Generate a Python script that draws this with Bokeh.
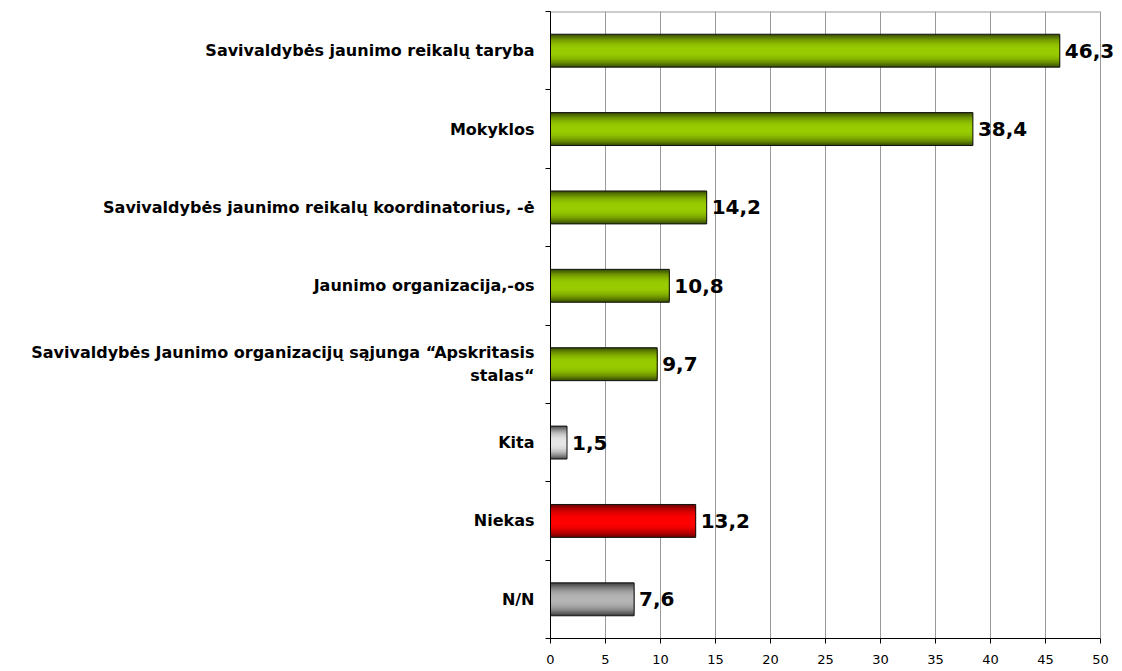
from bokeh.plotting import figure
from bokeh.models import ColumnDataSource, LabelSet, FixedTicker, Range1d
from bokeh.core.properties import value
from bokeh.embed import file_html
from bokeh.resources import INLINE

# ---- data (top to bottom) ----
categories = [
    "Savivaldybės jaunimo reikalų taryba",
    "Mokyklos",
    "Savivaldybės jaunimo reikalų koordinatorius, -ė",
    "Jaunimo organizacija,-os",
    "Savivaldybės Jaunimo organizacijų sąjunga “Apskritasis\nstalas“",
    "Kita",
    "Niekas",
    "N/N",
]
values = [46.3, 38.4, 14.2, 10.8, 9.7, 1.5, 13.2, 7.6]
value_labels = ["46,3", "38,4", "14,2", "10,8", "9,7", "1,5", "13,2", "7,6"]
x_ticks = [0, 5, 10, 15, 20, 25, 30, 35, 40, 45, 50]
x_max = 50

# ---- styles ----
bar_style = ["green", "green", "green", "green", "green", "silver", "red", "gray"]
palette = {  # (edge colour, centre colour)
    "green": ((0x3a, 0x50, 0x00), (0x99, 0xcc, 0x00)),
    "silver": ((0x50, 0x50, 0x50), (0xe6, 0xe6, 0xe6)),
    "red": ((0x70, 0x00, 0x00), (0xff, 0x00, 0x00)),
    "gray": ((0x40, 0x40, 0x40), (0xb4, 0xb4, 0xb4)),
}

n = len(categories)
ypos = [n - 0.5 - i for i in range(n)]
BAR_H = 0.42
LAYERS = 14
PX_PER_UNIT = 11.0
FRAME_W = 570


def mix(c1, c2, t):
    return "#%02x%02x%02x" % tuple(int(round(a + (b - a) * t)) for a, b in zip(c1, c2))


data = dict(y=ypos, right=values, label=value_labels)
for k in range(LAYERS):
    t = k / (LAYERS - 1)
    f = 1 - (1 - t) ** 2.2
    data["c%d" % k] = [mix(palette[s][0], palette[s][1], f) for s in bar_style]
src = ColumnDataSource(data)

p = figure(
    width=1120, height=670,
    frame_width=FRAME_W, frame_height=627,
    min_border_left=550, min_border_right=0, min_border_top=11, min_border_bottom=32,
    x_range=Range1d(0, FRAME_W / PX_PER_UNIT), y_range=Range1d(0, n),
    output_backend="svg", toolbar_location=None,
)

# top border line over the 0..x_max span
p.segment(x0=[0], x1=[x_max], y0=[n], y1=[n], line_color="#999999", line_width=2)

for k in range(LAYERS):
    h = BAR_H * (1 - k / LAYERS)
    p.hbar(y="y", left=0, right="right", height=h, source=src,
           fill_color="c%d" % k, line_color=None)
p.hbar(y="y", left=0, right="right", height=BAR_H, source=src,
       fill_alpha=0, line_color="#111111", line_width=1)

# x axis
p.xaxis.ticker = FixedTicker(ticks=x_ticks)
p.xaxis.bounds = (0, x_max)
p.xaxis.axis_line_color = "#000000"
p.xaxis.major_tick_line_color = "#000000"
p.xaxis.major_tick_out = 5
p.xaxis.major_tick_in = 0
p.xaxis.minor_tick_line_color = None
p.xaxis.major_label_text_font = "DejaVu Sans"
p.xaxis.major_label_text_font_size = "13px"
p.xaxis.major_label_text_color = "#000000"
p.xaxis.major_label_standoff = 11

# y axis: category labels at centres, boundary ticks as minor ticks
p.yaxis.ticker = FixedTicker(ticks=ypos, minor_ticks=list(range(n + 1)))
p.yaxis.major_label_overrides = {y: c for y, c in zip(ypos, categories)}
p.yaxis.axis_line_color = "#000000"
p.yaxis.major_tick_line_color = None
p.yaxis.major_tick_out = 0
p.yaxis.major_tick_in = 0
p.yaxis.minor_tick_line_color = "#000000"
p.yaxis.minor_tick_out = 5
p.yaxis.minor_tick_in = 0
p.yaxis.major_label_standoff = 11
p.yaxis.major_label_text_font = "DejaVu Sans"
p.yaxis.major_label_text_font_style = "bold"
p.yaxis.major_label_text_font_size = "16px"
p.yaxis.major_label_text_color = "#000000"

p.xgrid.ticker = FixedTicker(ticks=x_ticks)
p.xgrid.grid_line_color = "#999999"
p.ygrid.grid_line_color = None
p.outline_line_color = None

# value labels
p.add_layout(LabelSet(x="right", y="y", text="label", source=src, x_offset=5,
                      text_align="left", text_baseline="middle",
                      text_font=value("DejaVu Sans"), text_font_style="bold",
                      text_font_size=value("20px"), text_color="#000000"))

open("out.html", "w").write(file_html(p, INLINE))
